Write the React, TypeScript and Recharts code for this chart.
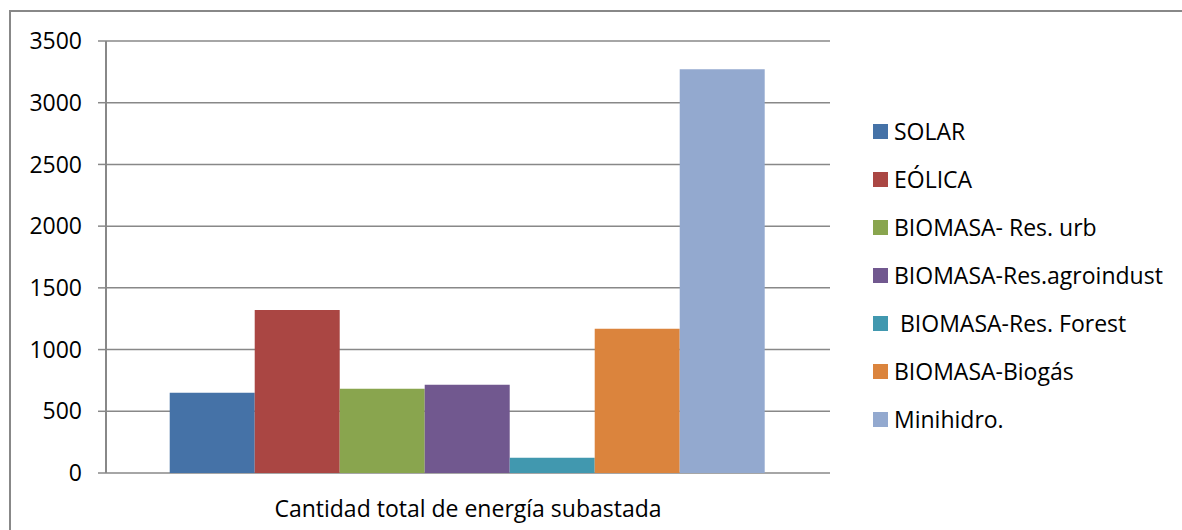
import { BarChart, Bar, XAxis, YAxis, CartesianGrid } from 'recharts';

// ============================================
// Data
// ============================================

const CATEGORY = 'Cantidad total de energía subastada';

const SERIES = [
  'SOLAR',
  'EÓLICA',
  'BIOMASA- Res. urb',
  'BIOMASA-Res.agroindust',
  ' BIOMASA-Res. Forest',
  'BIOMASA-Biogás',
  'Minihidro.',
];

const VALUES = [650, 1321, 682, 715, 124, 1168, 3272];

const Y_TICKS = [0, 500, 1000, 1500, 2000, 2500, 3000, 3500];

// ============================================
// Colors
// ============================================

const COLORS = ['#4572A7', '#AA4643', '#89A54E', '#71588F', '#4198AF', '#DB843D', '#93A9CF'];
const LINE = '#888888';
const FONT = '"Open Sans", sans-serif';

const row: Record<string, string | number> = { name: CATEGORY };
SERIES.forEach((s, i) => {
  row[`s${i}`] = VALUES[i];
});
const data = [row];

function CategoryTick(props: any) {
  const { x, y, payload } = props;
  return (
    <text x={x} y={y} dy={44} textAnchor="middle" fill="#000" fontSize={23} fontFamily={FONT}>
      {payload.value}
    </text>
  );
}

// legend drawn beside the chart so it does not eat plot width
function LegendBox() {
  return (
    <div
      style={{
        position: 'absolute',
        left: 873,
        top: 107,
        fontFamily: FONT,
        fontSize: 23,
        color: '#000',
      }}
    >
      {SERIES.map((s, i) => (
        <div key={s} style={{ height: 48, display: 'flex', alignItems: 'center' }}>
          <span style={{ width: 15, height: 15, background: COLORS[i], marginRight: 6, flex: '0 0 auto' }} />
          <span style={{ whiteSpace: 'pre' }}>{s}</span>
        </div>
      ))}
    </div>
  );
}

export default function App() {
  return (
    <div style={{ position: 'relative', width: 1182, height: 530, background: '#fff', overflow: 'hidden' }}>
      <style>{`body{margin:0;}`}</style>
      <div
        style={{
          position: 'absolute',
          left: 9,
          top: 10,
          right: -4,
          bottom: -4,
          borderLeft: `2px solid ${LINE}`,
          borderTop: `2px solid ${LINE}`,
        }}
      />
      <BarChart
        width={1182}
        height={530}
        data={data}
        margin={{ top: 41, right: 352, left: 10, bottom: 0 }}
        barCategoryGap="8.8%"
        barGap={0}
      >
        <CartesianGrid vertical={false} stroke={LINE} strokeWidth={1.5} />
        <XAxis
          xAxisId="edge"
          type="number"
          domain={[0, 1]}
          ticks={[0, 1]}
          height={0}
          tick={false}
          tickSize={9}
          tickLine={{ stroke: LINE, strokeWidth: 2 }}
          axisLine={{ stroke: LINE, strokeWidth: 1.5 }}
        />
        <XAxis
          xAxisId="cat"
          dataKey="name"
          height={57}
          axisLine={false}
          tickLine={false}
          tickSize={0}
          tickMargin={0}
          tick={<CategoryTick />}
        />
        <YAxis
          domain={[0, 3500]}
          ticks={Y_TICKS}
          width={96}
          tickSize={8}
          tickMargin={16}
          axisLine={{ stroke: LINE, strokeWidth: 2 }}
          tickLine={{ stroke: LINE, strokeWidth: 1.5 }}
          tick={{ fill: '#000', fontSize: 23, fontFamily: FONT }}
        />
        {SERIES.map((s, i) => (
          <Bar
            key={s}
            xAxisId="cat"
            dataKey={`s${i}`}
            name={s}
            fill={COLORS[i]}
            isAnimationActive={false}
          />
        ))}
      </BarChart>
      <LegendBox />
    </div>
  );
}
